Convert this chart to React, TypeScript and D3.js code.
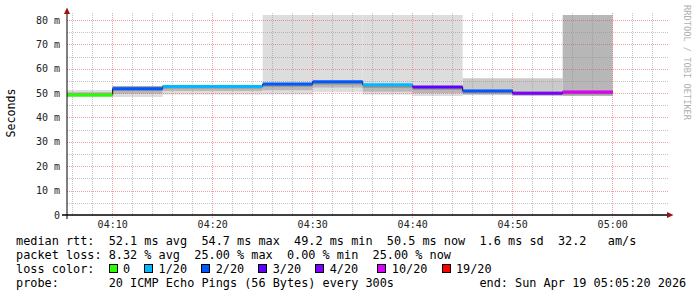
import React from "react";
import * as d3 from "d3";

// ---- data ----
const intervalStarts = ["04:05", "04:10", "04:15", "04:20", "04:25", "04:30", "04:35", "04:40", "04:45", "04:50", "04:55"];
const medianMs = [49.2, 51.8, 52.7, 52.7, 53.7, 54.7, 53.4, 52.5, 50.9, 49.9, 50.5];
const lossPings = [0, 2, 1, 1, 2, 2, 1, 3, 2, 4, 10];
// smoke bands [low, high] in ms, outer -> inner
const smokeOuter = [[48.3, 51.3], [48.4, 52.9], [49.4, 53.4], [49.4, 53.4], [49.5, 90], [50.4, 90], [49.4, 90], [48.8, 90], [49.2, 56.1], [48.8, 56.1], [48.8, 90]];
const smokeMid = [[48.6, 50.4], [49.8, 52.8], [50.9, 53.1], [50.9, 53.1], [51.2, 53.7], [52.3, 54.7], [50.6, 53.4], [50.0, 52.5], [49.8, 51.4], [49.2, 50.7], [49.4, 51.0]];
const smokeInner = [[48.9, 49.7], [51.0, 52.7], [51.9, 52.9], [51.9, 52.9], [52.6, 53.6], [53.5, 54.6], [52.2, 53.3], [51.4, 52.4], [50.4, 51.2], [49.5, 50.2], [49.8, 50.7]];
const smokeOuterLevel = [1, 1, 1, 1, 1, 1, 1, 1, 2, 2, 3];

const yTicks = [0, 10, 20, 30, 40, 50, 60, 70, 80];
const yTickLabels = ["0", "10 m", "20 m", "30 m", "40 m", "50 m", "60 m", "70 m", "80 m"];
const xTickLabels = ["04:10", "04:20", "04:30", "04:40", "04:50", "05:00"];

const lossClasses = [0, 1, 2, 3, 4, 10, 19];
const lossLabels = ["0", "1/20", "2/20", "3/20", "4/20", "10/20", "19/20"];
const lossColors = ["#26ff00", "#00b8ff", "#0059ff", "#5e00ff", "#7e00ff", "#dd00ff", "#ff0000"];

const legendRtt = "median rtt:  52.1 ms avg  54.7 ms max  49.2 ms min  50.5 ms now  1.6 ms sd  32.2   am/s";
const legendLoss = "packet loss: 8.32 % avg  25.00 % max  0.00 % min  25.00 % now";
const legendProbe = "probe:       20 ICMP Echo Pings (56 Bytes) every 300s";
const legendEnd = "end: Sun Apr 19 05:05:20 2026";

// ---- layout ----
const W = 697, H = 297;
const plotLeft = 66, plotRight = 666, plotTop = 15, plotBottom = 215;
const FONT = "'DejaVu Sans Mono', monospace";
const CW = 7.13; // legend char width
const LX = 16;

const parseT = d3.timeParse("%H:%M:%S");
const tStart = parseT("04:05:20") as Date;
const tEnd = parseT("05:05:20") as Date;
const tp = (s: string) => parseT(s + ":00") as Date;

const x = d3.scaleTime().domain([tStart, tEnd]).range([plotLeft, plotRight]);
const y = d3.scaleLinear().domain([0, 82.05]).range([plotBottom, plotTop]);

const grayLevel = (ii: number) => {
  const c = Math.floor((190 / 10) * (10 - ii)) + 50;
  const h = c.toString(16).padStart(2, "0");
  return "#" + h + h + h;
};
const lossColor = (l: number) => {
  let idx = 0;
  lossClasses.forEach((c, i) => { if (l >= c) idx = i; });
  return lossColors[idx];
};

export default function App() {
  const starts = intervalStarts.map(tp);
  const ends = starts.map((s) => d3.timeMinute.offset(s, 5));

  const minorTimes = d3.timeMinute.every(2)!.range(tStart, tEnd);
  const majorTimes = d3.timeMinute.every(10)!.range(tStart, tEnd);
  const minorY = d3.range(0, 81, 5);

  const px = (t: Date) => Math.floor(x(t)) + 0.5;

  const stepPts: [number, number][] = starts.map((s, i) => [x(s), y(medianMs[i])]);
  stepPts.push([x(ends[ends.length - 1]), y(medianMs[medianMs.length - 1])]);
  const stepLine = d3.line().curve(d3.curveStepAfter)(stepPts) || "";

  const bands: { i: number; lo: number; hi: number; fill: string }[] = [];
  starts.forEach((_, i) => {
    const L = smokeOuterLevel[i];
    bands.push({ i, lo: smokeOuter[i][0], hi: smokeOuter[i][1], fill: grayLevel(L) });
    bands.push({ i, lo: smokeMid[i][0], hi: smokeMid[i][1], fill: grayLevel(L + 2) });
    bands.push({ i, lo: smokeInner[i][0], hi: smokeInner[i][1], fill: grayLevel(L + 4) });
  });

  const lossBoxCol = [13, 18, 26, 34, 42, 50.7, 59.7];

  return (
    <svg width={W} height={H} style={{ position: "absolute", left: 0, top: 0, background: "#fff" }}>
      <rect x={0} y={0} width={W} height={H} fill="#fff" />
      <defs>
        <clipPath id="plot">
          <rect x={plotLeft + 1} y={plotTop} width={plotRight - plotLeft - 1} height={plotBottom - plotTop} />
        </clipPath>
      </defs>

      {/* smoke */}
      <g clipPath="url(#plot)">
        {bands.map((b, k) => (
          <rect key={k} x={x(starts[b.i])} width={x(ends[b.i]) - x(starts[b.i])}
            y={y(b.hi)} height={y(b.lo) - y(b.hi)} fill={b.fill} />
        ))}
      </g>

      {/* grid */}
      <g shapeRendering="crispEdges">
        {minorY.filter((v) => v % 10 !== 0).map((v) => (
          <line key={"hy" + v} x1={plotLeft + 1} x2={plotRight + 2} y1={Math.round(y(v)) + 0.5} y2={Math.round(y(v)) + 0.5}
            stroke="rgba(140,140,140,0.5)" strokeDasharray="1,1" />
        ))}
        {minorTimes.filter((t) => t.getMinutes() % 10 !== 0).map((t, k) => (
          <line key={"vx" + k} x1={px(t)} x2={px(t)} y1={13} y2={217}
            stroke="rgba(140,140,140,0.5)" strokeDasharray="1,1" />
        ))}
        {yTicks.filter((v) => v > 0).map((v) => (
          <line key={"my" + v} x1={plotLeft + 1} x2={plotRight + 2} y1={Math.round(y(v)) + 0.5} y2={Math.round(y(v)) + 0.5}
            stroke="rgba(230,70,70,0.5)" strokeDasharray="1,1" />
        ))}
        {majorTimes.map((t, k) => (
          <line key={"mx" + k} x1={px(t)} x2={px(t)} y1={13} y2={219}
            stroke="rgba(230,70,70,0.5)" strokeDasharray="1,1" />
        ))}
      </g>

      {/* median */}
      <g clipPath="url(#plot)">
        <path d={stepLine} fill="none" stroke="#000" strokeWidth={1} />
        {starts.map((s, i) => (
          <line key={"m" + i} x1={x(s)} x2={x(ends[i])} y1={y(medianMs[i])} y2={y(medianMs[i])}
            stroke={lossColor(lossPings[i])} strokeWidth={3} />
        ))}
      </g>

      {/* axes */}
      <line x1={67} x2={67} y1={11} y2={219} stroke="#000" strokeWidth={1} />
      <line x1={62} x2={668} y1={215} y2={215} stroke="#000" strokeWidth={1.4} />
      <path d="M64,14 L67,7.5 L70,14 Z" fill="#a01010" />
      <path d="M667,212 L673.5,215 L667,218 Z" fill="#a01010" />

      {/* y labels */}
      {yTicks.map((v, i) => (
        <text key={"yl" + v} x={60} y={y(v) + 3.6} textAnchor="end" fontFamily={FONT} fontSize={10} fill="#222">
          {yTickLabels[i]}
        </text>
      ))}
      {/* x labels */}
      {xTickLabels.map((l) => (
        <text key={"xl" + l} x={x(tp(l))} y={228} textAnchor="middle" fontFamily={FONT} fontSize={10} fill="#222">
          {l}
        </text>
      ))}

      <text transform="translate(15,113) rotate(-90)" textAnchor="middle" fontFamily={FONT} fontSize={11.6} fill="#000">
        Seconds
      </text>
      <text transform="translate(684,5) rotate(90)" textAnchor="start" fontFamily={FONT} fontSize={8.7} fill="#b0b0b0">
        RRDTOOL / TOBI OETIKER
      </text>

      {/* legend */}
      <g fontFamily={FONT} fontSize={11.85} fill="#000" style={{ whiteSpace: "pre" }}>
        <text x={LX} y={245} xmlSpace="preserve">{legendRtt}</text>
        <text x={LX} y={259} xmlSpace="preserve">{legendLoss}</text>
        <text x={LX} y={273} xmlSpace="preserve">loss color:</text>
        {lossLabels.map((l, i) => (
          <g key={"lg" + i}>
            <rect x={Math.round(LX + lossBoxCol[i] * CW) + 0.5} y={264.5} width={8} height={8}
              fill={lossColors[i]} stroke="#000" strokeWidth={1} />
            <text x={LX + (lossBoxCol[i] + 2) * CW} y={273}>{l}</text>
          </g>
        ))}
        <text x={LX} y={287} xmlSpace="preserve">{legendProbe}</text>
        <text x={LX + 65 * CW} y={287} xmlSpace="preserve">{legendEnd}</text>
      </g>
    </svg>
  );
}
